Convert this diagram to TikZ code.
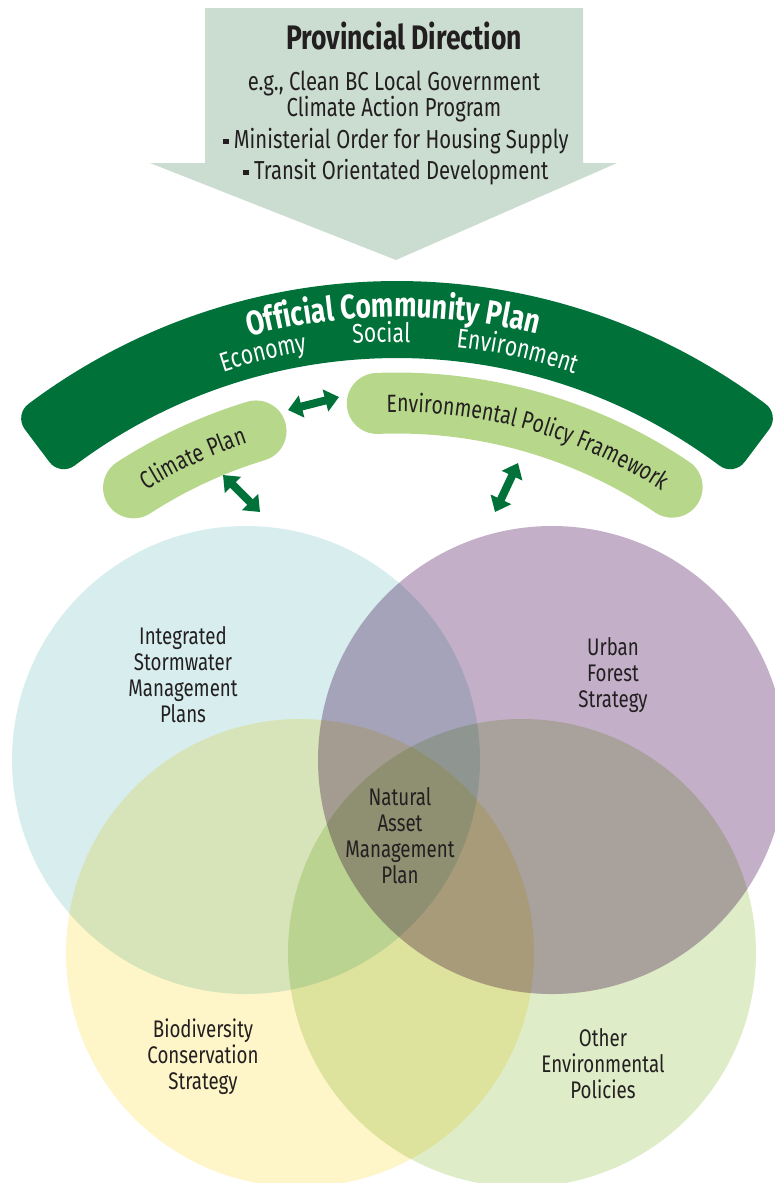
\documentclass[tikz,border=0pt]{standalone}
\usepackage{fontspec}
\usetikzlibrary{arrows.meta,decorations.text,calc}
\newfontfamily\condfont[FakeStretch=0.78]{Fira Sans}
\definecolor{arrowfill}{RGB}{203,221,209}
\definecolor{dkgreen}{RGB}{0,114,57}
\definecolor{pillgreen}{RGB}{183,216,138}
\definecolor{cblue}{RGB}{216,238,238}
\definecolor{cpurple}{RGB}{195,175,200}
\definecolor{cyellow}{RGB}{254,245,200}
\definecolor{cgreen}{RGB}{222,236,200}
\definecolor{textgray}{RGB}{35,31,32}
\newcommand\sqbul{\raisebox{0.28ex}{\rule{0.2em}{0.2em}}}
\begin{document}
\begin{tikzpicture}[x=1pt,y=-1pt,
  toptext/.style={font=\condfont\fontsize{26}{30}\selectfont, text=textgray, anchor=base, inner sep=0pt},
  headtext/.style={font=\condfont\bfseries\fontsize{34}{38}\selectfont, text=textgray, anchor=base, inner sep=0pt},
  venntext/.style={font=\condfont\fontsize{24}{26}\selectfont, text=textgray, align=center, inner sep=0pt},
  dblarrow/.style={draw=dkgreen, line width=8pt,
    {Triangle[width=22pt,length=14pt]}-{Triangle[width=22pt,length=14pt]}},
  pill/.style={draw=pillgreen, line width=61pt, line cap=round},
  curvetext/.style={decorate, decoration={text along path, text align=center, text color=#1}},
]
\useasboundingbox (0,0) rectangle (775,1183);

% downward arrow for provincial direction
\fill[arrowfill] (205,8) -- (583,8) -- (583,163) -- (617,163) -- (396,260)
  -- (150,163) -- (205,163) -- cycle;
\node[headtext] (prov) at (404,49) {Provincial Direction};
\node[toptext] (l1) at (394,90) {e.g., Clean BC Local Government};
\node[toptext] (l2) at (394,116) {Climate Action Program};
\node[toptext] (l3) at (396,148) {\sqbul\ Ministerial Order for Housing Supply};
\node[toptext] (l4) at (396,179) {\sqbul\ Transit Orientated Development};

% curved band (rounded ends from a thick round-joined outline)
\coordinate (ocpc) at (397,895);
\filldraw[dkgreen, line width=36pt, line join=round]
  (ocpc) ++(-126.9:596) arc[start angle=-126.9, end angle=-53.1, radius=596]
  -- ($(ocpc)+(-53.1:555)$) arc[start angle=-53.1, end angle=-126.9, radius=555]
  -- cycle;

% band labels
\path[curvetext=white, decoration={text={|\condfont\bfseries\fontsize{34}{38}\selectfont|Official Community Plan}}]
  (ocpc) ++(-120.4:578) arc[start angle=-120.4, end angle=-60.4, radius=578];
\path[curvetext=white, decoration={text={|\condfont\fontsize{27}{30}\selectfont|Economy}}]
  (ocpc) ++(-118.9:551) arc[start angle=-118.9, end angle=-88.9, radius=551];
\path[curvetext=white, decoration={text={|\condfont\fontsize{27}{30}\selectfont|Social}}]
  (ocpc) ++(-106.6:553) arc[start angle=-106.6, end angle=-76.6, radius=553];
\path[curvetext=white, decoration={text={|\condfont\fontsize{27}{30}\selectfont|Environment}}]
  (ocpc) ++(-92.5:551) arc[start angle=-92.5, end angle=-62.5, radius=551];

% plan pills
\draw[pill] (ocpc) ++(-122.9:485) arc[start angle=-122.9, end angle=-106.9, radius=485];
\draw[pill] (ocpc) ++(-92.3:492) arc[start angle=-92.3, end angle=-56.0, radius=492];
\path[curvetext=textgray, decoration={text={|\condfont\fontsize{25}{28}\selectfont|Climate Plan}}]
  (ocpc) ++(-130:476) arc[start angle=-130, end angle=-100, radius=476];
\path[curvetext=textgray, decoration={text={|\condfont\fontsize{25}{28}\selectfont|Environmental Policy Framework}}]
  (ocpc) ++(-95:483) arc[start angle=-95, end angle=-53, radius=483];

% overlapping policy circles
\begin{scope}[blend mode=multiply]
  \fill[cblue] (246,760) circle[radius=234];
  \fill[cpurple] (552,760) circle[radius=234];
  \fill[cyellow] (300,953) circle[radius=234];
  \fill[cgreen] (522,953) circle[radius=234];
\end{scope}

\node[venntext] (isw) at (183,675) {Integrated\\Stormwater\\Management\\Plans};
\node[venntext] (ufs) at (613,675) {Urban\\Forest\\Strategy};
\node[venntext] (nam) at (400,836) {Natural\\Asset\\Management\\Plan};
\node[venntext] (bcs) at (203,1057) {Biodiversity\\Conservation\\Strategy};
\node[venntext] (oep) at (603,1064) {Other\\Environmental\\Policies};

% link arrows
\coordinate (cpR) at (288,410);
\coordinate (epL) at (339,397);
\coordinate (cpB) at (223,475);
\coordinate (iswT) at (260,512);
\coordinate (epB) at (518,463);
\coordinate (ufsT) at (495,512);
\draw[dblarrow] (cpR) -- (epL);
\draw[dblarrow] (cpB) -- (iswT);
\draw[dblarrow] (epB) -- (ufsT);
\end{tikzpicture}
\end{document}
